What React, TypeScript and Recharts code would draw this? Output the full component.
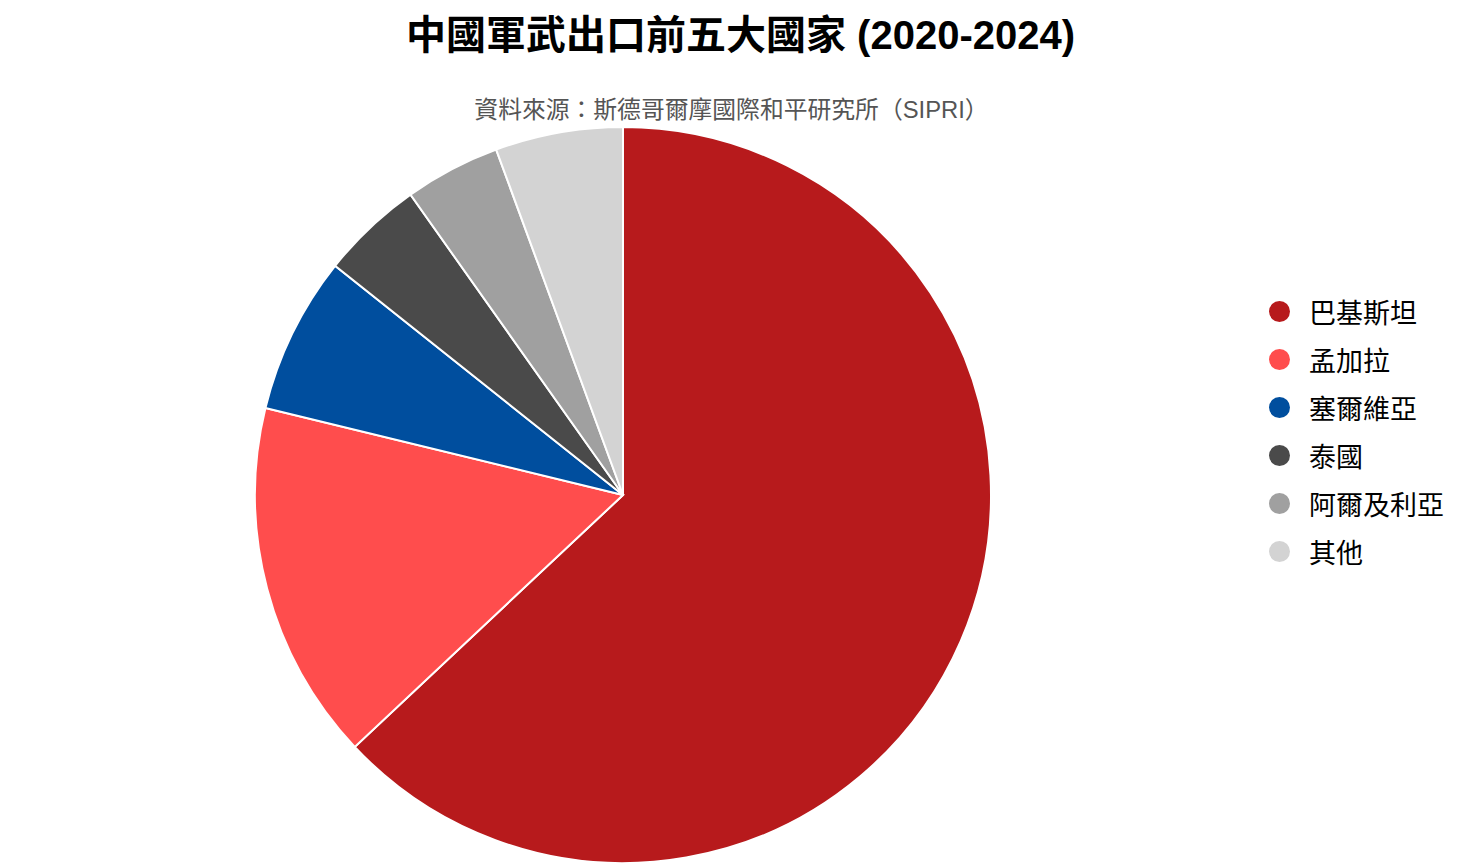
import { PieChart, Pie, Cell, Legend } from 'recharts';

const countries = ['巴基斯坦', '孟加拉', '塞爾維亞', '泰國', '阿爾及利亞', '其他'];
const shares = [63.0, 15.8, 6.9, 4.5, 4.2, 5.6];
const colors = ['#b71a1c', '#ff4d4d', '#004e9e', '#4a4a4a', '#a0a0a0', '#d3d3d3'];

const data = countries.map((name, i) => ({ name, value: shares[i] }));

const FONT = '"Liberation Sans", "Noto Sans CJK TC", sans-serif';

const LegendList = () => (
  <div style={{ fontFamily: FONT }}>
    {countries.map((name, i) => (
      <div key={name} style={{ display: 'flex', alignItems: 'center', height: 48 }}>
        <span
          style={{
            width: 21,
            height: 21,
            borderRadius: '50%',
            background: colors[i],
            display: 'inline-block',
            marginRight: 19,
          }}
        />
        <span style={{ fontSize: 27, color: '#000' }}>{name}</span>
      </div>
    ))}
  </div>
);

export default function App() {
  return (
    <div style={{ position: 'absolute', left: 0, top: 0, width: 1468, height: 866, background: '#fff' }}>
      <div
        style={{
          position: 'absolute',
          top: 10,
          left: 0,
          width: 1481,
          textAlign: 'center',
          fontFamily: FONT,
          fontWeight: 700,
          fontSize: 40,
          lineHeight: '50px',
          color: '#000',
        }}
      >
        中國軍武出口前五大國家 (2020-2024)
      </div>
      <div
        style={{
          position: 'absolute',
          top: 94,
          left: 0,
          width: 1463,
          textAlign: 'center',
          fontFamily: FONT,
          fontSize: 23.8,
          lineHeight: '32px',
          color: '#555',
        }}
      >
        資料來源：斯德哥爾摩國際和平研究所（SIPRI）
      </div>
      <PieChart
        width={1468}
        height={866}
        margin={{ top: 0, right: 0, bottom: 0, left: 0 }}
        style={{ position: 'absolute', left: 0, top: 0 }}
      >
        <Pie
          data={data}
          dataKey="value"
          nameKey="name"
          cx={623}
          cy={495}
          outerRadius={368}
          startAngle={90}
          endAngle={-270}
          stroke="#fff"
          strokeWidth={2}
          isAnimationActive={false}
        >
          {data.map((d, i) => (
            <Cell key={d.name} fill={colors[i]} />
          ))}
        </Pie>
        <Legend
          content={<LegendList />}
          wrapperStyle={{ position: 'absolute', left: 1269, top: 287, width: 200 }}
        />
      </PieChart>
    </div>
  );
}
